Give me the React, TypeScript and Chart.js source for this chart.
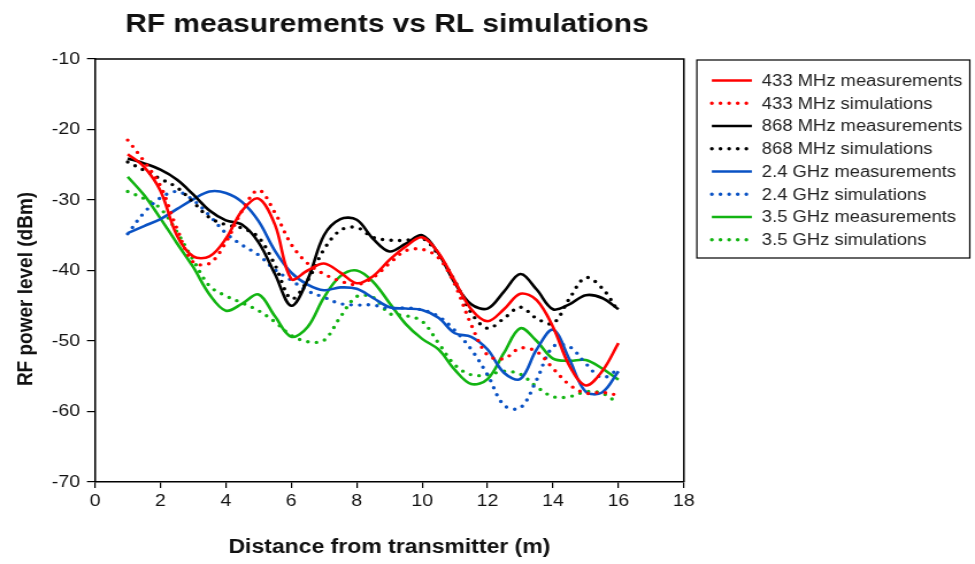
import React, { useEffect, useRef } from 'react';
import { Chart, registerables } from 'chart.js';

Chart.register(...registerables);

// ---- data (distance in m, RF level in dBm) ----
const distances = [1, 1.5, 2, 2.5, 3, 3.5, 4, 4.5, 5, 5.5, 6, 6.5, 7, 7.5, 8, 8.5, 9, 9.5, 10, 10.5, 11, 11.5, 12, 12.5, 13, 13.5, 14, 14.5, 15, 15.5, 16];

const meas433 = [-23.5, -25.3, -28.7, -35, -38, -38, -35.5, -31.5, -29.8, -33.5, -41.2, -40, -39, -40.3, -41.8, -40.8, -38.5, -36.6, -35.3, -37.5, -41.5, -45.5, -47.2, -45.5, -43.3, -44.2, -48, -53.5, -56.3, -54.3, -50.3];
const sim433 = [-21.5, -24.5, -28, -34, -38.8, -39, -36, -31.5, -28.6, -31.8, -36.3, -39, -40.5, -41.5, -42, -41, -39, -37.2, -37, -38.2, -42, -47.7, -52, -52.5, -51, -51.5, -53.9, -56.2, -57.4, -57.3, -57.7];
const meas868 = [-24.1, -24.8, -25.7, -27.1, -29.2, -31.5, -32.9, -33.5, -36, -40.5, -45, -41.3, -35, -32.7, -32.8, -35.5, -37.3, -36.2, -35, -37.6, -41.8, -44.8, -45.4, -43, -40.5, -42.7, -45.5, -44.8, -43.5, -43.9, -45.5];
const sim868 = [-24.6, -25.8, -27, -28.2, -30.3, -32.5, -33.5, -34, -35.3, -39.2, -44, -41.4, -37, -34.3, -33.9, -35.3, -35.7, -35.7, -35.4, -37.8, -41.5, -46, -48.2, -46.8, -45.2, -46.8, -47.5, -44, -41, -42.5, -45.8];
const meas24 = [-34.7, -33.7, -32.7, -31.3, -29.9, -28.8, -29, -30.3, -33, -37.2, -40.3, -42, -42.8, -42.4, -42.6, -43.9, -45.2, -45.4, -45.6, -46.7, -48.9, -49.4, -51.2, -54.5, -55.4, -51.2, -48.4, -52.6, -57.2, -57.3, -54.3];
const sim24 = [-34.8, -31.8, -29.7, -28.8, -30, -32.2, -34.7, -36.4, -37.8, -39.9, -41.4, -42.9, -43.8, -44.7, -44.9, -44.9, -45.4, -45.3, -45.6, -46.5, -48.5, -51.2, -54.8, -59.1, -59.5, -55.5, -50.8, -50.8, -53.2, -55.2, -54];
const meas35 = [-26.7, -29.3, -32.6, -36.1, -39.5, -43.4, -45.7, -44.7, -43.4, -46.5, -49.4, -48, -43.8, -40.8, -40, -41.6, -44.6, -47.6, -49.7, -51.2, -54.1, -56.1, -55.4, -51.7, -48.2, -50, -52.5, -52.8, -52.7, -53.9, -55.5];
const sim35 = [-28.8, -29.8, -31.2, -34.5, -38.5, -42.2, -43.6, -44.6, -45.7, -47.3, -49.2, -50.1, -49.9, -46.6, -43.7, -43.8, -46.1, -46.4, -47.2, -50.3, -53.4, -54.8, -54.8, -54.3, -54.7, -56.5, -57.9, -57.9, -57.2, -57.4, -58.9];

const seriesLabels = [
  '433 MHz measurements', '433 MHz simulations',
  '868 MHz measurements', '868 MHz simulations',
  '2.4 GHz measurements', '2.4 GHz simulations',
  '3.5 GHz measurements', '3.5 GHz simulations',
];
const seriesValues = [meas433, sim433, meas868, sim868, meas24, sim24, meas35, sim35];
const seriesColors = ['#ff0000', '#ff0000', '#000000', '#000000', '#0a52c4', '#0a52c4', '#12b412', '#12b412'];

const titleText = 'RF measurements vs RL simulations';
const xTitle = 'Distance from transmitter (m)';
const yTitle = 'RF power level (dBm)';
const xMin = 0, xMax = 18, xStep = 2;
const yMin = -70, yMax = -10, yStep = 10;

// ---- layout (canvas is drawn narrower and stretched horizontally) ----
const STRETCH = 1.15;
const CW = Math.round(975 / STRETCH);
const CH = 564;
const FONT = "'Liberation Sans', Arial, Helvetica, sans-serif";

const DOT_DASH = [0, 7.5];

const overlayPlugin = {
  id: 'overlay',
  afterDatasetsDraw(chart: any) {
    const { ctx, chartArea } = chart;
    ctx.save();
    ctx.strokeStyle = '#000';
    ctx.lineWidth = 1.5;
    ctx.beginPath();
    ctx.moveTo(chartArea.left, chartArea.top);
    ctx.lineTo(chartArea.right, chartArea.top);
    ctx.lineTo(chartArea.right, chartArea.bottom);
    ctx.stroke();
    ctx.restore();
  },
  afterDraw(chart: any) {
    const { ctx } = chart;
    ctx.save();
    // title
    ctx.fillStyle = '#111';
    ctx.font = `bold 26px ${FONT}`;
    ctx.textAlign = 'center';
    ctx.textBaseline = 'alphabetic';
    ctx.fillText(titleText, 387 / STRETCH, 31.5);

    // y axis title
    ctx.save();
    ctx.translate(26 / STRETCH, 289);
    ctx.rotate(-Math.PI / 2);
    ctx.font = `bold 19px ${FONT}`;
    ctx.textAlign = 'center';
    ctx.textBaseline = 'middle';
    ctx.fillText(yTitle, 0, 0);
    ctx.restore();

    // legend
    const bx = 697 / STRETCH, by = 60, bw = (970 - 697) / STRETCH, bh = 198;
    ctx.strokeStyle = '#000';
    ctx.lineWidth = 1.2;
    ctx.strokeRect(bx, by, bw, bh);
    const x0 = 712 / STRETCH, x1 = 752 / STRETCH, tx = 762 / STRETCH;
    ctx.font = `16px ${FONT}`;
    ctx.textAlign = 'left';
    ctx.textBaseline = 'middle';
    chart.data.datasets.forEach((ds: any, i: number) => {
      const y = 80.5 + i * 22.75;
      ctx.save();
      ctx.strokeStyle = ds.borderColor;
      ctx.lineWidth = ds.borderWidth;
      ctx.lineCap = ds.borderDash && ds.borderDash.length ? 'round' : 'butt';
      ctx.setLineDash(ds.borderDash || []);
      ctx.beginPath();
      ctx.moveTo(x0, y);
      ctx.lineTo(x1, y);
      ctx.stroke();
      ctx.restore();
      ctx.fillStyle = '#222';
      ctx.fillText(ds.label, tx, y + 1);
    });
    ctx.restore();
  },
};

export default function App() {
  const ref = useRef<HTMLCanvasElement | null>(null);

  useEffect(() => {
    const canvas = ref.current;
    if (!canvas) return;
    const datasets = seriesValues.map((vals, i) => {
      const dotted = i % 2 === 1;
      return {
        label: seriesLabels[i],
        data: distances.map((d, k) => ({ x: d, y: vals[k] })),
        borderColor: seriesColors[i],
        backgroundColor: seriesColors[i],
        borderWidth: dotted ? 3.4 : 2.6,
        borderDash: dotted ? DOT_DASH : [],
        borderCapStyle: dotted ? 'round' : 'butt',
        pointRadius: 0,
        tension: 0.35,
        fill: false,
      };
    });

    const chart = new Chart(canvas, {
      type: 'line',
      data: { datasets } as any,
      plugins: [overlayPlugin],
      options: {
        responsive: false,
        animation: false,
        devicePixelRatio: 1,
        layout: { padding: { left: 0, top: 59, right: CW - 684 / STRETCH, bottom: 0 } },
        plugins: {
          legend: { display: false },
          title: { display: false },
          tooltip: { enabled: false },
        },
        scales: {
          x: {
            type: 'linear',
            min: xMin,
            max: xMax,
            ticks: { stepSize: xStep, color: '#111', font: { family: FONT, size: 17 }, padding: 3, maxRotation: 0 },
            grid: { display: true, drawOnChartArea: false, drawTicks: true, tickLength: 6, color: '#000', lineWidth: 1.2 },
            border: { display: true, color: '#000', width: 1.5 },
            title: { display: true, text: xTitle, color: '#111', font: { family: FONT, size: 20, weight: 'bold' }, padding: { top: 0, bottom: 5 } },
            afterFit(scale: any) { scale.height = CH - 482; },
          },
          y: {
            type: 'linear',
            min: yMin,
            max: yMax,
            ticks: { stepSize: yStep, color: '#111', font: { family: FONT, size: 17 }, padding: 6 },
            grid: { display: true, drawOnChartArea: false, drawTicks: true, tickLength: 7, color: '#000', lineWidth: 1.2 },
            border: { display: true, color: '#000', width: 1.5 },
            title: { display: false, text: yTitle },
            afterFit(scale: any) { scale.width = 95 / STRETCH; },
          },
        },
      } as any,
    });
    return () => chart.destroy();
  }, []);

  return (
    <div style={{ position: 'fixed', left: 0, top: 0, width: 975, height: 564, background: '#fff' }}>
      <canvas ref={ref} width={CW} height={CH} style={{ width: '975px', height: '564px', display: 'block' }} />
    </div>
  );
}
